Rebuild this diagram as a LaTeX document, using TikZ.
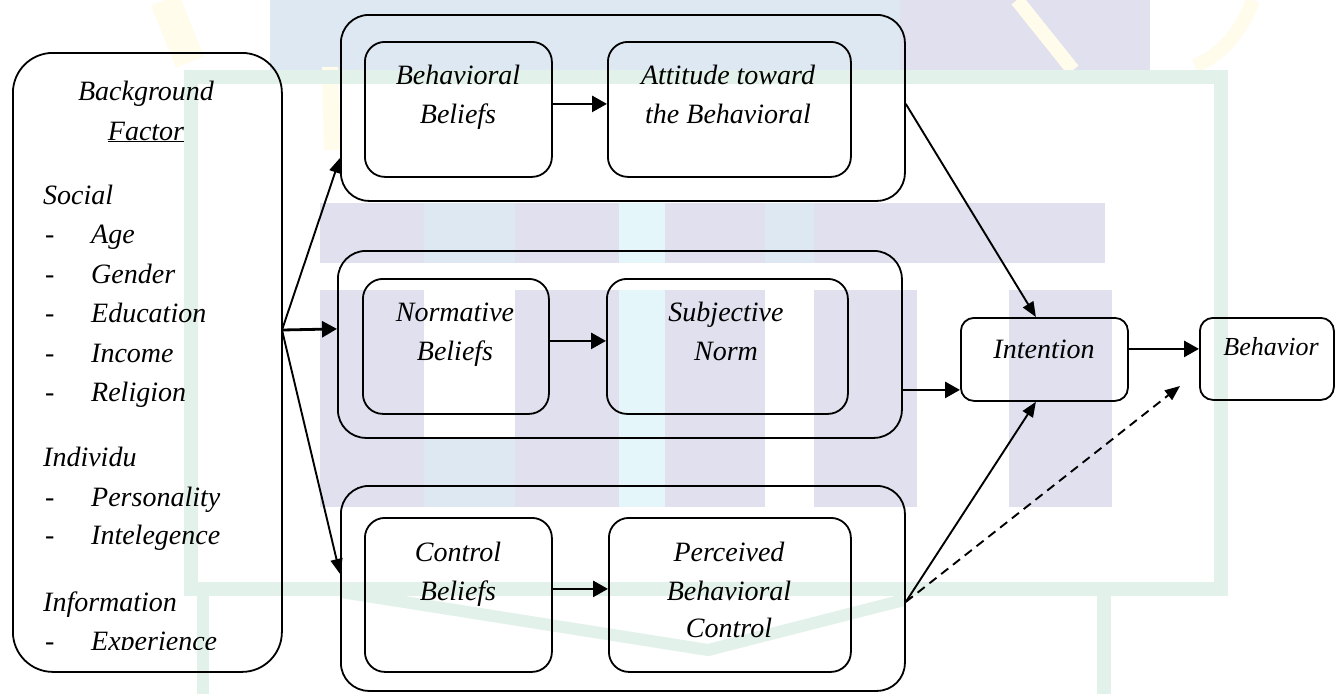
\documentclass[tikz,border=0pt]{standalone}
\usepackage{fontspec}
\setmainfont{Liberation Serif}
\usetikzlibrary{arrows.meta,calc}
\definecolor{wmlav}{RGB}{224,224,238}
\definecolor{wmblue}{RGB}{222,232,243}
\definecolor{wmcyan}{RGB}{228,246,250}
\definecolor{wmgreen}{RGB}{226,241,233}
\definecolor{wmyellow}{RGB}{255,252,236}
\tikzset{
  box/.style={draw=black, line width=1.8pt, rectangle, inner sep=0pt, anchor=north west},
  groupbox/.style={box, rounded corners=28pt},
  innerbox/.style={box, rounded corners=20pt},
  smallbox/.style={box, rounded corners=13pt},
  bgbox/.style={box, rounded corners=40pt},
  txt/.style={inner sep=0pt, anchor=base, font=\fontsize{28}{39}\selectfont\itshape},
  ltxt/.style={txt, anchor=base west},
  harr/.style={line width=2.8pt, -{Triangle[length=15pt,width=16pt]}},
  darr/.style={line width=1.9pt, -{Triangle[length=15pt,width=12pt]}},
  dasharr/.style={darr, dash pattern=on 9pt off 6pt},
}
\begin{document}
\begin{tikzpicture}[x=1pt,y=-1pt]
\useasboundingbox (0,0) rectangle (1337,694);
\fill[white] (0,0) rectangle (1337,694);
% ---------- faint watermark ----------
\fill[wmblue] (270,0) rectangle (900,70);
\fill[wmlav] (900,0) rectangle (1150,70);
\draw[wmyellow, line width=30pt] (165,0) -- (190,62);
\draw[wmyellow, line width=16pt] (330,67) -- (332,150);
\draw[wmyellow, line width=14pt] (1017,0) -- (1073,70);
\draw[wmyellow, line width=14pt] (1253,0) .. controls (1240,35) and (1220,55) .. (1195,66);
\fill[wmlav] (320,203) rectangle (1105,263);
\fill[wmblue] (424,203) rectangle (515,263);
\fill[wmcyan] (619,203) rectangle (665,263);
\fill[wmblue] (765,203) rectangle (814,263);
\foreach \a/\b in {320/424,515/619,665/765,814/917,1009/1112}{
  \fill[wmlav] (\a,290) rectangle (\b,507);
}
\fill[wmcyan] (619,290) rectangle (665,507);
\fill[wmblue] (424,437) rectangle (515,507);
\draw[wmgreen, line width=14pt] (191,77) rectangle (1221,589);
\draw[wmgreen, line width=12pt] (203,589) -- (203,694);
\draw[wmgreen, line width=14pt] (1104,589) -- (1104,694);
\draw[wmgreen, line width=12pt, line join=round] (341,592) -- (708,650) -- (904,600);
% ---------- boxes ----------
\node[bgbox, minimum width=269pt, minimum height=619pt] (bg) at (12,52) {};
\node[groupbox, minimum width=564pt, minimum height=186pt] (g1) at (340,14) {};
\node[groupbox, minimum width=564pt, minimum height=187pt] (g2) at (337,250) {};
\node[groupbox, minimum width=564pt, minimum height=205pt] (g3) at (340,485) {};
\node[innerbox, minimum width=187pt, minimum height=135pt] (bb) at (364,41) {};
\node[innerbox, minimum width=243pt, minimum height=135pt] (att) at (607,41) {};
\node[innerbox, minimum width=186pt, minimum height=135pt] (nb) at (362,278) {};
\node[innerbox, minimum width=241pt, minimum height=135pt] (sn) at (606,278) {};
\node[innerbox, minimum width=187pt, minimum height=154pt] (cb) at (364,517) {};
\node[innerbox, minimum width=242pt, minimum height=154pt] (pbc) at (608,517) {};
\node[smallbox, minimum width=167pt, minimum height=83pt] (int) at (960,317) {};
\node[smallbox, minimum width=134pt, minimum height=82pt] (beh) at (1199,317) {};
% ---------- texts ----------
\node[txt] (tbg1) at (146,100) {Background};
\node[txt] (tbg2) at (146,140) {\underline{Factor}};
\node[ltxt] (tsoc) at (43,204) {Social};
\foreach \n/\t/\y in {age/Age/243,gen/Gender/283,edu/Education/322,inc/Income/362,rel/Religion/401,per/Personality/506,intl/Intelegence/544}{
  \node[ltxt] (d\n) at (45,\y) {-};
  \node[ltxt] (t\n) at (91,\y) {\t};
}
\node[ltxt] (tind) at (43,466) {Individu};
\node[ltxt] (tinf) at (43,611) {Information};
\begin{scope}
\clip (0,0) rectangle (282,649);
\node[ltxt] (dexp) at (45,650) {-};
\node[ltxt] (texp) at (91,650) {Experience};
\end{scope}
\node[txt] (tbb1) at (458,84) {Behavioral};
\node[txt] (tbb2) at (458,123) {Beliefs};
\node[txt] (tat1) at (728,84) {Attitude toward};
\node[txt] (tat2) at (728,123) {the Behavioral};
\node[txt] (tnb1) at (455,321) {Normative};
\node[txt] (tnb2) at (455,360) {Beliefs};
\node[txt] (tsn1) at (726,321) {Subjective};
\node[txt] (tsn2) at (726,360) {Norm};
\node[txt] (tcb1) at (458,561) {Control};
\node[txt] (tcb2) at (458,600) {Beliefs};
\node[txt] (tpb1) at (729,561) {Perceived};
\node[txt] (tpb2) at (729,600) {Behavioral};
\node[txt] (tpb3) at (729,637) {Control};
\node[txt] (tint) at (1044,358) {Intention};
\node[txt, font=\fontsize{26}{36}\selectfont\itshape] (tbeh) at (1271,355) {Behavior};
% ---------- connectors ----------
\coordinate (fan) at (282,330);
\coordinate (dashend) at (1180,386);
\draw[harr] ([yshift=5.5pt]bb.east) -- ([yshift=5.5pt]bb.east -| att.west);
\draw[harr] ([yshift=5.5pt]nb.east) -- ([yshift=5.5pt]nb.east -| sn.west);
\draw[harr] ([yshift=6pt]cb.east) -- ([yshift=6pt]cb.east -| pbc.west);
\draw[darr] (fan) -- ([yshift=-50pt]g1.west);
\draw[harr] (fan) -- ([yshift=15.5pt]g2.west);
\draw[darr] (fan) -- ([yshift=14.5pt]g3.west);
\draw[darr] ([yshift=4pt]g1.east) -- ([xshift=-8.5pt]int.north);
\draw[harr] ([yshift=-45.5pt]g2.east) -- ([yshift=-45.5pt]g2.east -| int.west);
\draw[harr] ([yshift=10.5pt]int.east) -- ([yshift=10.5pt]int.east -| beh.west);
\draw[darr] ([yshift=-13.5pt]g3.east) -- ([xshift=-8.5pt]int.south);
\draw[dasharr] ([yshift=-13.5pt]g3.east) -- (dashend);
\end{tikzpicture}
\end{document}
